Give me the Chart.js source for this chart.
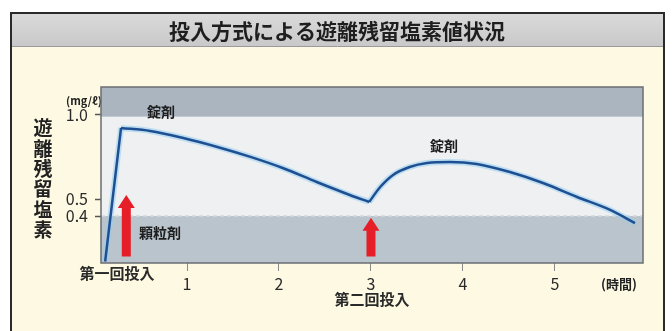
<!DOCTYPE html>
<html>
<head>
<meta charset="utf-8">
<script src="https://cdn.jsdelivr.net/npm/chart.js@4"></script>
<style>
  html, body { margin: 0; padding: 0; background: #fff; }
  canvas { display: block; }
</style>
</head>
<body>
<canvas id="chlorineChart" width="672" height="331"></canvas>
<script>
/* ---------- DATA ---------- */
const X_TICKS = [1, 2, 3, 4, 5];
const Y_TICKS = [0.4, 0.5, 1.0];

// first dose: quick rise to the peak
const riseHours = [0.11, 0.283];
const riseValues = [0.13, 0.923];

// decay until the second dose
const decayHours = [0.283, 0.6, 0.96, 1.33, 1.69, 2.04, 2.41, 2.77, 2.98];
const decayValues = [0.923, 0.905, 0.863, 0.81, 0.751, 0.685, 0.602, 0.525, 0.483];

// second dose: rise and decay
const secondHours = [2.98, 3.1, 3.24, 3.42, 3.61, 3.86, 4.15, 4.51, 4.87, 5.24, 5.6, 5.87];
const secondValues = [0.483, 0.572, 0.644, 0.691, 0.715, 0.721, 0.709, 0.661, 0.596, 0.513, 0.436, 0.358];

// dosing arrows (hour, top value, bottom value)
const arrowHours = [0.34, 3.0];
const arrowTops = [0.525, 0.39];
const arrowBottoms = [0.16, 0.16];

// text inside the plot
const noteTexts = ["錠剤", "錠剤", "顆粒剤"];
const noteHours = [0.717, 3.793, 0.707];
const noteValues = [1.018, 0.816, 0.299];

const X_MIN = 0.065, X_MAX = 5.957;
const Y_MIN = 0.121, Y_MAX = 1.166;
const TABLET_LINE = 0.99;   // top band
const GRANULE_LINE = 0.4;   // lower band

/* ---------- HELPERS ---------- */
const toPoints = (xs, ys) => xs.map((x, i) => ({ x, y: ys[i] }));
const FONT = '"Noto Sans CJK JP", "Noto Sans", sans-serif';

function lineSet(points, halo) {
  return {
    data: points,
    borderColor: halo ? "rgba(150,205,238,0.55)" : "#1e4f92",
    borderWidth: halo ? 6 : 2.5,
    pointRadius: 0,
    cubicInterpolationMode: "monotone",
    fill: false,
    order: halo ? 2 : 1
  };
}

const risePts = toPoints(riseHours, riseValues);
const decayPts = toPoints(decayHours, decayValues);
const secondPts = toPoints(secondHours, secondValues);

/* ---------- BACKGROUND / FRAME ---------- */
const framePlugin = {
  id: "frame",
  beforeDraw(chart) {
    const c = chart.ctx;
    const { width, height } = chart;
    const area = chart.chartArea;
    const y = chart.scales.y;

    c.save();
    c.fillStyle = "#ffffff";
    c.fillRect(0, 0, width, height);

    // cream body
    c.fillStyle = "#fdf9e2";
    c.fillRect(11, 13, 653, height - 13);

    // title bar
    const grad = c.createLinearGradient(0, 13, 0, 46);
    grad.addColorStop(0, "#dadada");
    grad.addColorStop(1, "#c9c9c9");
    c.fillStyle = grad;
    c.fillRect(11, 13, 653, 33);
    c.strokeStyle = "#9a9a9a";
    c.lineWidth = 1;
    c.beginPath();
    c.moveTo(11, 46.5);
    c.lineTo(664, 46.5);
    c.stroke();

    // outer frame
    c.strokeStyle = "#2a2a2a";
    c.lineWidth = 2;
    c.beginPath();
    c.moveTo(11, height + 2);
    c.lineTo(11, 13);
    c.lineTo(664, 13);
    c.lineTo(664, height + 2);
    c.stroke();

    c.fillStyle = "#1e1e1e";
    c.font = "bold 21px " + FONT;
    c.textAlign = "center";
    c.textBaseline = "middle";
    c.fillText("投入方式による遊離残留塩素値状況", 337, 31);

    // plot bands
    const yTab = y.getPixelForValue(TABLET_LINE);
    const yGran = y.getPixelForValue(GRANULE_LINE);
    c.fillStyle = "#eef0f2";
    c.fillRect(area.left, area.top, area.width, area.height);
    c.fillStyle = "#aab5c0";
    c.fillRect(area.left, area.top, area.width, yTab - area.top);
    c.fillStyle = "#bac4cd";
    c.fillRect(area.left, yGran, area.width, area.bottom - yGran);

    c.strokeStyle = "#d4d8dc";
    c.setLineDash([4, 3]);
    c.lineWidth = 1.5;
    c.beginPath();
    c.moveTo(area.left, yGran);
    c.lineTo(area.right, yGran);
    c.stroke();
    c.setLineDash([]);

    // vertical axis title
    c.fillStyle = "#222";
    c.font = "bold 19px " + FONT;
    "遊離残留塩素".split("").forEach((ch, i) => {
      c.fillText(ch, 43, 128 + i * 20.4);
    });

    // unit labels
    c.font = "bold 11px " + FONT;
    c.fillText("(mg/ℓ)", 84, 101);
    c.font = "bold 13px " + FONT;
    c.fillText("(時間)", 619, 284);

    c.font = "bold 15px " + FONT;
    c.fillStyle = "#2a2a2a";
    c.fillText("第一回投入", 117, 273);
    c.fillText("第二回投入", 372, 299);
    c.restore();
  },
  afterDatasetsDraw(chart) {
    const c = chart.ctx;
    const { x, y } = chart.scales;
    c.save();

    // red arrows
    c.fillStyle = "#e61e28";
    arrowHours.forEach((h, i) => {
      const px = x.getPixelForValue(h);
      const top = y.getPixelForValue(arrowTops[i]);
      const bot = y.getPixelForValue(arrowBottoms[i]);
      const head = 13, shaft = 4.5, wing = 8.5;
      c.beginPath();
      c.moveTo(px, top);
      c.lineTo(px + wing, top + head);
      c.lineTo(px + shaft, top + head);
      c.lineTo(px + shaft, bot);
      c.lineTo(px - shaft, bot);
      c.lineTo(px - shaft, top + head);
      c.lineTo(px - wing, top + head);
      c.closePath();
      c.fill();
    });

    // notes
    c.fillStyle = "#1e1e1e";
    c.font = "bold 14px " + FONT;
    c.textAlign = "center";
    c.textBaseline = "middle";
    noteTexts.forEach((t, i) => {
      c.fillText(t, x.getPixelForValue(noteHours[i]), y.getPixelForValue(noteValues[i]));
    });

    // plot border
    const area = chart.chartArea;
    c.strokeStyle = "#6a6e72";
    c.lineWidth = 1.5;
    c.strokeRect(area.left, area.top, area.width, area.height);
    c.restore();
  }
};

/* ---------- CHART ---------- */
new Chart(document.getElementById("chlorineChart"), {
  type: "line",
  data: {
    datasets: [
      lineSet(risePts, true), lineSet(decayPts, true), lineSet(secondPts, true),
      lineSet(risePts, false), lineSet(decayPts, false), lineSet(secondPts, false)
    ]
  },
  options: {
    responsive: false,
    animation: false,
    devicePixelRatio: 1,
    layout: { padding: { left: 0, top: 87, right: 29, bottom: 0 } },
    plugins: { legend: { display: false }, tooltip: { enabled: false } },
    scales: {
      x: {
        type: "linear",
        min: X_MIN,
        max: X_MAX,
        afterBuildTicks: s => { s.ticks = X_TICKS.map(v => ({ value: v })); },
        afterFit: s => { s.height = 68; },
        border: { display: false },
        grid: {
          drawOnChartArea: false,
          tickLength: 8,
          tickColor: "#8a8a8a",
          tickWidth: 1
        },
        ticks: {
          padding: 3,
          color: "#2a2a2a",
          font: { family: FONT, size: 16 },
          maxRotation: 0
        }
      },
      y: {
        type: "linear",
        min: Y_MIN,
        max: Y_MAX,
        afterBuildTicks: s => { s.ticks = Y_TICKS.map(v => ({ value: v })); },
        afterFit: s => { s.width = 101; },
        border: { display: false },
        grid: {
          drawOnChartArea: false,
          tickLength: 6,
          tickColor: "#555",
          tickWidth: 1.5
        },
        ticks: {
          padding: 7,
          color: "#2a2a2a",
          font: { family: FONT, size: 16 },
          callback: v => v.toFixed(1)
        }
      }
    }
  },
  plugins: [framePlugin]
});
</script>
</body>
</html>
